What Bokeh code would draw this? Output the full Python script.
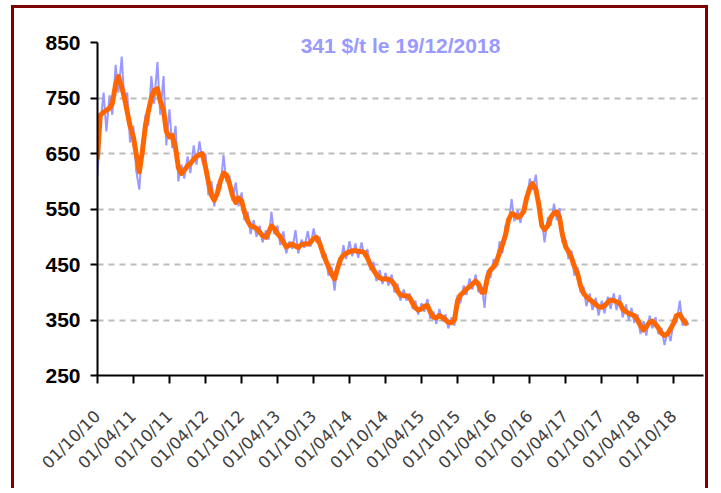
import math
import pandas as pd
from bokeh.plotting import figure
from bokeh.models import Range1d, FixedTicker, DatetimeTickFormatter, Label
from bokeh.embed import file_html
from bokeh.resources import INLINE

# ---- data ----
title_text = "341 $/t le 19/12/2018"
start_date = "2010-10-01"
axis_end_date = "2019-03-01"

tick_dates = ["2010-10-01", "2011-04-01", "2011-10-01", "2012-04-01", "2012-10-01",
              "2013-04-01", "2013-10-01", "2014-04-01", "2014-10-01", "2015-04-01",
              "2015-10-01", "2016-04-01", "2016-10-01", "2017-04-01", "2017-10-01",
              "2018-04-01", "2018-10-01"]
y_ticks = [250, 350, 450, 550, 650, 750, 850]
grid_levels = [350, 450, 550, 650, 750]

# daily price (sampled twice a month), $/t
price = [610, 700, 760, 690, 755, 720, 810, 760, 825, 740,
         760, 670, 700, 620, 585, 660, 720, 700, 790, 740,
         815, 720, 790, 665, 730, 660, 700, 600, 630, 605,
         645, 615, 665, 630, 672, 640, 650, 575, 600, 555,
         595, 585, 648, 600, 610, 565, 598, 555, 580, 530,
         545, 505, 530, 500, 520, 490, 512, 495, 545, 505,
         520, 485, 510, 470, 492, 478, 512, 470, 495, 480,
         510, 482, 515, 490, 500, 462, 470, 430, 445, 403,
         455, 450, 485, 460, 492, 465, 488, 462, 490, 465,
         478, 440, 455, 420, 440, 415, 435, 412, 432, 400,
         415, 385, 405, 385, 398, 370, 385, 360, 380, 365,
         388, 352, 365, 343, 370, 348, 360, 335, 355, 340,
         395, 380, 412, 395, 425, 405, 432, 400, 410, 372,
         440, 425, 460, 445, 492, 470, 522, 520, 568, 528,
         548, 525, 560, 562, 605, 585, 612, 560, 530, 490,
         535, 520, 560, 530, 552, 490, 495, 460, 475, 430,
         445, 400, 410, 375, 398, 368, 390, 358, 385, 362,
         392, 370, 398, 368, 395, 355, 378, 350, 372, 345,
         360, 325, 348, 322, 358, 335, 355, 325, 335, 305,
         330, 312, 350, 345, 385, 340, 352, 341]

# moving average, $/t
average = [643, 719, 725, 728, 732, 740, 775, 789, 770, 750,
           725, 700, 680, 650, 617, 650, 700, 725, 750, 764,
           767, 745, 728, 690, 680, 683, 660, 625, 614, 620,
           628, 632, 640, 645, 648, 650, 625, 600, 575, 566,
           580, 600, 615, 612, 595, 575, 562, 570, 565, 545,
           528, 520, 518, 515, 508, 502, 499, 508, 520, 515,
           505, 500, 490, 482, 485, 487, 483, 481, 486, 487,
           487, 490, 497, 499, 488, 473, 458, 446, 432, 424,
           445, 460, 467, 470, 473, 475, 475, 474, 473, 472,
           462, 450, 440, 432, 426, 424, 424, 424, 420, 414,
           402, 395, 394, 394, 390, 380, 372, 368, 370, 375,
           376, 365, 355, 354, 358, 355, 350, 346, 345, 350,
           385, 395, 400, 406, 410, 415, 420, 415, 400, 400,
           428, 440, 446, 455, 472, 485, 505, 530, 542, 540,
           535, 538, 546, 570, 588, 596, 585, 560, 520, 513,
           520, 535, 543, 545, 535, 505, 482, 474, 462, 447,
           433, 412, 398, 392, 387, 383, 378, 374, 373, 376,
           382, 386, 385, 383, 380, 370, 365, 362, 360, 358,
           350, 340, 332, 338, 346, 348, 342, 336, 326, 322,
           326, 334, 345, 358, 360, 352, 344]

price_dates = pd.date_range(start_date, periods=len(price), freq="SMS")
average_dates = pd.date_range(start_date, periods=len(average), freq="SMS")


def ms(d):
    return pd.Timestamp(d).value / 1e6


x0, x1 = ms(start_date), ms(axis_end_date)

p = figure(width=697, height=483, x_axis_type="datetime",
           x_range=Range1d(x0, x1), y_range=Range1d(250, 890),
           output_backend="svg", toolbar_location=None,
           min_border_left=83, min_border_right=8,
           min_border_top=12, min_border_bottom=116)
p.styles = {"border-left": "3px solid #800000", "border-top": "3px solid #800000",
            "border-right": "3px solid #800000", "margin-left": "11px",
            "margin-top": "5px"}
p.outline_line_color = None
p.background_fill_color = "white"
p.border_fill_color = "white"

# grid
p.xgrid.grid_line_color = None
p.ygrid.ticker = FixedTicker(ticks=grid_levels)
p.ygrid.grid_line_color = "#BBBBBB"
p.ygrid.grid_line_width = 2
p.ygrid.grid_line_dash = "6 5"

# y axis
yax = p.yaxis[0]
yax.ticker = FixedTicker(ticks=y_ticks)
yax.bounds = (250, 850)
yax.axis_line_width = 2
yax.axis_line_color = "black"
yax.major_tick_line_width = 2
yax.major_tick_line_color = "black"
yax.major_tick_out = 7
yax.major_tick_in = 0
yax.minor_tick_line_color = None
yax.major_label_text_font = "Liberation Sans"
yax.major_label_text_font_style = "bold"
yax.major_label_text_font_size = "21px"
yax.major_label_text_color = "black"
yax.major_label_standoff = 10

# x axis
xax = p.xaxis[0]
xax.ticker = FixedTicker(ticks=[ms(d) for d in tick_dates])
fmt = "%d/%m/%y"
xax.formatter = DatetimeTickFormatter(milliseconds=fmt, seconds=fmt, minsec=fmt,
                                      minutes=fmt, hourmin=fmt, hours=fmt, days=fmt,
                                      months=fmt, years=fmt)
xax.axis_line_width = 2
xax.axis_line_color = "black"
xax.major_tick_line_width = 2
xax.major_tick_line_color = "black"
xax.major_tick_out = 8
xax.major_tick_in = 0
xax.minor_tick_line_color = None
xax.major_label_orientation = math.pi / 4
xax.major_label_text_font = "DejaVu Sans"
xax.major_label_text_font_size = "16.5px"
xax.major_label_text_color = "#404040"
xax.major_label_standoff = 30

# series
p.line(price_dates, price, line_color="#9999FF", line_width=2)
p.line(average_dates, average, line_color="#FF6600", line_width=5,
       line_join="round", line_cap="round")

# title
p.add_layout(Label(x=(x0 + x1) / 2, y=845, text=title_text, text_align="center",
                   text_baseline="alphabetic", text_font="Liberation Sans",
                   text_font_style="bold", text_font_size="21px",
                   text_color="#9999FF"))

open("out.html", "w").write(file_html(p, INLINE))
